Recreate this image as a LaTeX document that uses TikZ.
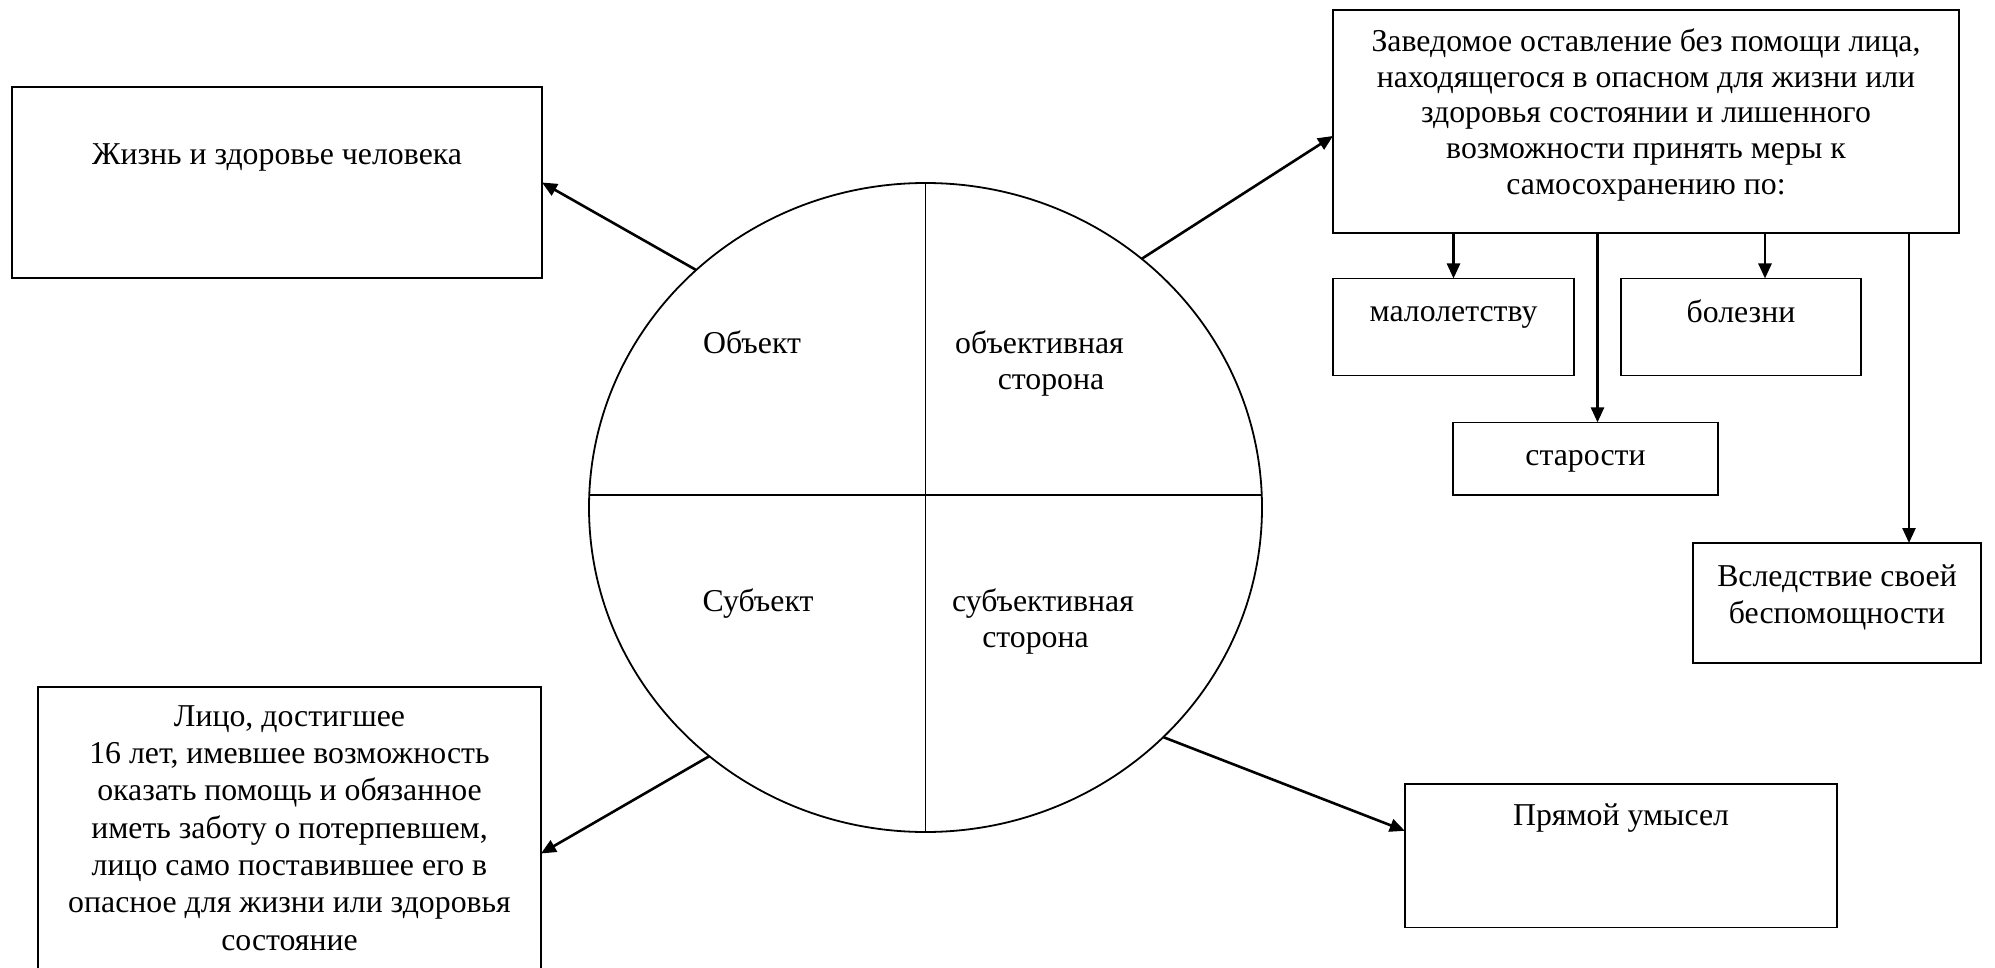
\documentclass[tikz,border=0pt]{standalone}
\usepackage{fontspec}
\setmainfont{Liberation Serif}
\usetikzlibrary{arrows.meta,shapes.geometric}
\begin{document}
\begin{tikzpicture}[x=1pt,y=-1pt,
  box/.style 2 args={draw,line width=1.6pt,minimum width=#1,minimum height=#2,inner sep=0pt,outer sep=0pt},
  txt/.style={font=\fontsize{31.8}{36.5}\selectfont,align=center,inner sep=0pt},
  arr/.style={line width=2.6pt,-{Triangle[length=15pt,width=13pt]}},
  ]
\useasboundingbox (0,0) rectangle (1995,968);

% circle
\node[draw,ellipse,line width=1.8pt,minimum width=673pt,minimum height=649pt,inner sep=0pt,outer sep=0pt] (E) at (925.5,507.5) {};
\coordinate (hl) at (589.2,495);
\coordinate (hr) at (1261.8,495);
\draw[line width=1.8pt] (hl) -- (hr);
\draw[line width=1.8pt] (E.north) -- (E.south);

\node[txt] (q1) at (752,342) {Объект};
\node[txt] (q2) at (1039.5,363.5) {объективная\\\hspace*{23pt}сторона};
\node[txt] (q3) at (758,604) {Субъект};
\node[txt] (q4) at (1043,621.5) {субъективная\\сторона\hspace*{15pt}};

% box A
\node[box={530pt}{191pt}] (A) at (277,182.5) {};
\node[txt] (tA) at (277,157.5) {Жизнь и здоровье человека};

% box B
\node[box={626pt}{223pt}] (B) at (1646,121.5) {};
\node[txt,font=\fontsize{31.8}{35.6}\selectfont] (tB) at (1646,115) {Заведомое оставление без помощи лица,\\находящегося в опасном для жизни или\\здоровья состоянии и лишенного\\возможности принять меры к\\самосохранению по:};

% small boxes
\node[box={241pt}{97pt}] (mal) at (1453.5,327) {};
\node[txt] (tmal) at (1453.5,317.7) {малолетству};
\node[box={240pt}{97pt}] (bol) at (1741,327) {};
\node[txt] (tbol) at (1741,311.7) {болезни};
\node[box={265pt}{72.6pt}] (star) at (1585.5,458.7) {};
\node[txt] (tstar) at (1585.5,461.5) {старости};
\node[box={288pt}{120pt}] (vsl) at (1837,603) {};
\node[txt] (tvsl) at (1837,597.3) {Вследствие своей\\беспомощности};

% box C
\node[box={503pt}{303pt}] (C) at (289.5,838.5) {};
\node[txt,font=\fontsize{31.8}{37.3}\selectfont] (tC) at (289.5,828) {Лицо, достигшее\\16 лет, имевшее возможность\\оказать помощь и обязанное\\иметь заботу о потерпевшем,\\лицо само поставившее его в\\опасное для жизни или здоровья\\состояние};

% box D
\node[box={432.4pt}{143.8pt}] (D) at (1621,855.6) {};
\node[txt] (tD) at (1621,818) {Прямой умысел};

% arrows from circle
\draw[arr] (E.134.3) -- (A.east);
\draw[arr] (E.49.6) -- ([yshift=-14.5pt]B.west);
\draw[arr] (E.229.3) -- ([yshift=-15pt]C.east);
\draw[arr] (E.316.5) -- ([yshift=24.8pt]D.west);

% vertical arrows
\coordinate (x2) at (1597.5,0);
\coordinate (x3) at (1765,0);
\coordinate (x4) at (1909,0);
\draw[arr] (B.south -| mal.north) -- (mal.north);
\draw[arr] (B.south -| x2) -- (star.north -| x2);
\draw[arr] (B.south -| x3) -- (bol.north -| x3);
\draw[arr] (B.south -| x4) -- (vsl.north -| x4);
\end{tikzpicture}
\end{document}
